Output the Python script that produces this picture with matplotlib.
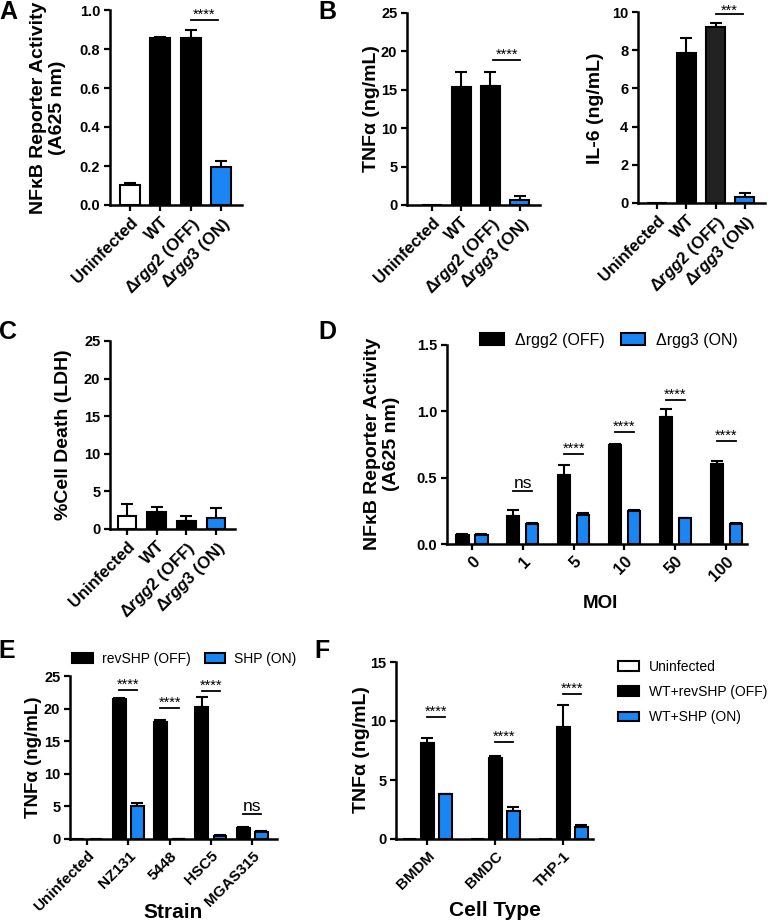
import matplotlib
matplotlib.use('Agg')
import matplotlib.pyplot as plt
import numpy as np
from matplotlib.patches import Patch

plt.rcParams['font.family'] = ['Liberation Sans', 'DejaVu Sans']
plt.rcParams['mathtext.fontset'] = 'custom'
plt.rcParams['mathtext.rm'] = 'Liberation Sans:bold'
plt.rcParams['mathtext.it'] = 'Liberation Sans:italic:bold'
plt.rcParams['mathtext.bf'] = 'Liberation Sans:bold'

# ---------------- data ----------------
strain_cats = ['Uninfected', 'WT', r'Δ$\mathit{rgg2}$ (OFF)', r'Δ$\mathit{rgg3}$ (ON)']

a_vals = [0.105, 0.855, 0.855, 0.195]
a_err = [0.01, 0.008, 0.045, 0.03]

tnf_vals = [0.0, 15.3, 15.5, 0.6]
tnf_err = [0.0, 2.0, 1.8, 0.55]

il6_vals = [0.0, 7.85, 9.2, 0.3]
il6_err = [0.0, 0.8, 0.25, 0.22]

c_vals = [1.7, 2.2, 1.1, 1.5]
c_err = [1.6, 0.7, 0.6, 1.3]

moi_cats = ['0', '1', '5', '10', '50', '100']
d_off = [0.068, 0.21, 0.52, 0.75, 0.96, 0.60]
d_off_err = [0.008, 0.05, 0.075, 0.006, 0.06, 0.022]
d_on = [0.066, 0.147, 0.215, 0.25, 0.193, 0.152]
d_on_err = [0.006, 0.01, 0.018, 0.006, 0.006, 0.01]
d_sig = ['', 'ns', '****', '****', '****', '****']
d_sig_y = [0, 0.40, 0.68, 0.845, 1.085, 0.775]

e_cats = ['Uninfected', 'NZ131', '5448', 'HSC5', 'MGAS315']
e_off = [0.0, 21.5, 17.9, 20.2, 1.7]
e_off_err = [0.0, 0.15, 0.4, 1.65, 0.1]
e_on = [0.0, 5.1, 0.05, 0.45, 1.1]
e_on_err = [0.0, 0.35, 0.0, 0.2, 0.12]
e_sig = ['', '****', '****', '****', 'ns']
e_sig_y = [0, 22.9, 20.1, 22.7, 3.9]

f_cats = ['BMDM', 'BMDC', 'THP-1']
f_uninf = [0.0, 0.0, 0.0]
f_off = [8.15, 6.9, 9.5]
f_off_err = [0.45, 0.12, 1.85]
f_on = [3.8, 2.35, 1.05]
f_on_err = [0.05, 0.35, 0.1]
f_sig = ['****', '****', '****']
f_sig_y = [10.3, 8.2, 12.3]

# ---------------- style ----------------
BLUE = '#1a86f4'
W, H = 771, 923
fig = plt.figure(figsize=(W / 100, H / 100), dpi=100)

XTICK_FS = 12
YTICK_FS = 10.5
YLAB_FS = 14


def add_ax(l, t, r, b):
    return fig.add_axes([l / W, 1 - b / H, (r - l) / W, (b - t) / H])


def style(ax, xlim, ylim, yticks, ytl, xticks, xtl):
    for s in ['top', 'right']:
        ax.spines[s].set_visible(False)
    for s in ['left', 'bottom']:
        ax.spines[s].set_linewidth(1.8)
    ax.set_xlim(*xlim)
    ax.set_ylim(*ylim)
    ax.set_yticks(yticks)
    ax.set_yticklabels(ytl, fontsize=YTICK_FS, fontweight='bold')
    ax.set_xticks(xticks)
    ax.set_xticklabels(xtl, fontsize=XTICK_FS, fontweight='bold', rotation=45,
                       ha='right', rotation_mode='anchor')
    ax.tick_params(direction='out', length=4, width=1.6, pad=3)


def bars(ax, x, vals, errs, color, width):
    x = np.asarray(x, dtype=float)
    vals = np.asarray(vals, dtype=float)
    errs = np.asarray(errs, dtype=float)
    ax.bar(x, vals, width=width, color=color, edgecolor='black', linewidth=1.5, zorder=3)
    m = vals > 0
    if m.any():
        ax.errorbar(x[m], vals[m], yerr=[np.zeros(m.sum()), errs[m]], fmt='none',
                    ecolor='black', elinewidth=1.5, capsize=4, capthick=1.5, zorder=2)


def sig(ax, x1, x2, y, text, dy=1.0):
    ax.plot([x1, x2], [y, y], color='black', lw=1.3, clip_on=False, zorder=4)
    if text == 'ns':
        ax.text((x1 + x2) / 2, y, 'ns', ha='center', va='bottom', fontsize=12.5, clip_on=False)
    else:
        ax.annotate(text, ((x1 + x2) / 2, y), xytext=(0, dy), textcoords='offset points',
                    ha='center', va='baseline', fontsize=10.5, annotation_clip=False)


def fx(px):
    return px / W


def fy(py):
    return 1 - py / H


# ---------------- Panel A ----------------
axA = add_ax(110, 10, 242, 205)
xa = np.arange(4)
bars(axA, xa, a_vals, a_err, ['white', 'black', 'black', BLUE], 0.66)
style(axA, (-0.66, 3.69), (0, 1.0), [0, 0.2, 0.4, 0.6, 0.8, 1.0],
      ['0.0', '0.2', '0.4', '0.6', '0.8', '1.0'], xa, strain_cats)
sig(axA, 2.0, 2.9, 0.95, '****')
fig.text(fx(48), fy(108), 'NFκB Reporter Activity\n(A625 nm)', rotation=90, ha='center',
         va='center', fontsize=YLAB_FS, fontweight='bold', linespacing=1.1)

# ---------------- Panel B (TNF) ----------------
axB = add_ax(407, 13, 540, 205)
bars(axB, xa, tnf_vals, tnf_err, ['white', 'black', 'black', BLUE], 0.66)
style(axB, (-0.85, 3.69), (0, 25), [0, 5, 10, 15, 20, 25],
      ['0', '5', '10', '15', '20', '25'], xa, strain_cats)
sig(axB, 2.1, 3.0, 18.9, '****')
fig.text(fx(372), fy(109), 'TNFα (ng/mL)', rotation=90, ha='center', va='center',
         fontsize=YLAB_FS, fontweight='bold')

# ---------------- Panel B (IL-6) ----------------
axB2 = add_ax(638, 12, 765, 203)
bars(axB2, xa, il6_vals, il6_err, ['white', 'black', '#222222', BLUE], 0.66)
style(axB2, (-0.65, 3.69), (0, 10), [0, 2, 4, 6, 8, 10],
      ['0', '2', '4', '6', '8', '10'], xa, strain_cats)
sig(axB2, 2.0, 2.95, 9.88, '***', dy=0)
fig.text(fx(596), fy(108), 'IL-6 (ng/mL)', rotation=90, ha='center', va='center',
         fontsize=YLAB_FS, fontweight='bold')

# ---------------- Panel C ----------------
axC = add_ax(110, 341, 235, 529)
bars(axC, xa, c_vals, c_err, ['white', 'black', 'black', BLUE], 0.62)
style(axC, (-0.57, 3.64), (0, 25), [0, 5, 10, 15, 20, 25],
      ['0', '5', '10', '15', '20', '25'], xa, strain_cats)
fig.text(fx(64), fy(435), '%Cell Death (LDH)', rotation=90, ha='center', va='center',
         fontsize=YLAB_FS, fontweight='bold')

# ---------------- Panel D ----------------
axD = add_ax(447, 345, 747, 544)
xd = np.arange(len(moi_cats))
off = 0.187
bars(axD, xd - off, d_off, d_off_err, 'black', 0.24)
bars(axD, xd + off, d_on, d_on_err, BLUE, 0.24)
style(axD, (-0.49, 5.41), (0, 1.5), [0, 0.5, 1.0, 1.5],
      ['0.0', '0.5', '1.0', '1.5'], xd, moi_cats)
for i, (t, y) in enumerate(zip(d_sig, d_sig_y)):
    if t:
        sig(axD, i - off, i + off, y, t)
fig.text(fx(382), fy(444), 'NFκB Reporter Activity\n(A625 nm)', rotation=90, ha='center',
         va='center', fontsize=YLAB_FS, fontweight='bold', linespacing=1.1)
fig.text(fx(600), fy(603), 'MOI', ha='center', va='center', fontsize=13.5, fontweight='bold')
fig.legend(handles=[Patch(facecolor='black', edgecolor='black', lw=1.5),
                    Patch(facecolor=BLUE, edgecolor='black', lw=1.5)],
           labels=['Δrgg2 (OFF)', 'Δrgg3 (ON)'], ncol=2, frameon=False,
           loc='center left', bbox_to_anchor=(fx(480), fy(340)), borderpad=0,
           borderaxespad=0, fontsize=11.5, handlelength=1.5, handleheight=0.7,
           handletextpad=0.7, columnspacing=1.0)

# ---------------- Panel E ----------------
axE = add_ax(70, 676, 277, 839)
xe = np.arange(len(e_cats))
eo = 0.22
bars(axE, xe - eo, e_off, e_off_err, 'black', 0.31)
bars(axE, xe + eo, e_on, e_on_err, BLUE, 0.31)
style(axE, (-0.41, 4.6), (0, 25), [0, 5, 10, 15, 20, 25],
      ['0', '5', '10', '15', '20', '25'], xe, e_cats)
for lbl in axE.get_xticklabels():
    lbl.set_fontsize(11)
for i, (t, y) in enumerate(zip(e_sig, e_sig_y)):
    if t:
        sig(axE, i - eo, i + eo, y, t)
fig.text(fx(34), fy(757), 'TNFα (ng/mL)', rotation=90, ha='center', va='center',
         fontsize=13.5, fontweight='bold')
fig.text(fx(173), fy(913), 'Strain', ha='center', va='center', fontsize=15, fontweight='bold')
fig.legend(handles=[Patch(facecolor='black', edgecolor='black', lw=1.5),
                    Patch(facecolor=BLUE, edgecolor='black', lw=1.5)],
           labels=['revSHP (OFF)', 'SHP (ON)'], ncol=2, frameon=False,
           loc='center left', bbox_to_anchor=(fx(72), fy(659)), borderpad=0,
           borderaxespad=0, fontsize=10, handlelength=1.5, handleheight=0.7,
           handletextpad=0.65, columnspacing=1.0)

# ---------------- Panel F ----------------
axF = add_ax(396, 662, 593, 839)
xf = np.arange(len(f_cats))
fo = 0.265
bars(axF, xf - fo, f_uninf, f_uninf, 'white', 0.19)
bars(axF, xf, f_off, f_off_err, 'black', 0.19)
bars(axF, xf + fo, f_on, f_on_err, BLUE, 0.19)
style(axF, (-0.46, 2.44), (0, 15), [0, 5, 10, 15], ['0', '5', '10', '15'], xf, f_cats)
for lbl in axF.get_xticklabels():
    lbl.set_fontsize(11)
for i, (t, y) in enumerate(zip(f_sig, f_sig_y)):
    sig(axF, i, i + fo, y, t)
fig.text(fx(362), fy(750), 'TNFα (ng/mL)', rotation=90, ha='center', va='center',
         fontsize=YLAB_FS, fontweight='bold')
fig.text(fx(495), fy(910), 'Cell Type', ha='center', va='center', fontsize=15, fontweight='bold')
fig.legend(handles=[Patch(facecolor='white', edgecolor='black', lw=1.5),
                    Patch(facecolor='black', edgecolor='black', lw=1.5),
                    Patch(facecolor=BLUE, edgecolor='black', lw=1.5)],
           labels=['Uninfected', 'WT+revSHP (OFF)', 'WT+SHP (ON)'], ncol=1, frameon=False,
           loc='upper left', bbox_to_anchor=(fx(618), fy(660)), borderpad=0,
           borderaxespad=0, fontsize=10, handlelength=1.5, handleheight=0.7,
           handletextpad=0.7, labelspacing=0.8)

# ---------------- panel letters ----------------
for lab, x, y in [('A', 8, 12), ('B', 327, 12), ('C', 8, 332), ('D', 327, 332),
                  ('E', 7, 651), ('F', 322, 651)]:
    fig.text(fx(x), fy(y), lab, ha='center', va='center', fontsize=18, fontweight='bold')

fig.savefig('out.png', dpi=100)
